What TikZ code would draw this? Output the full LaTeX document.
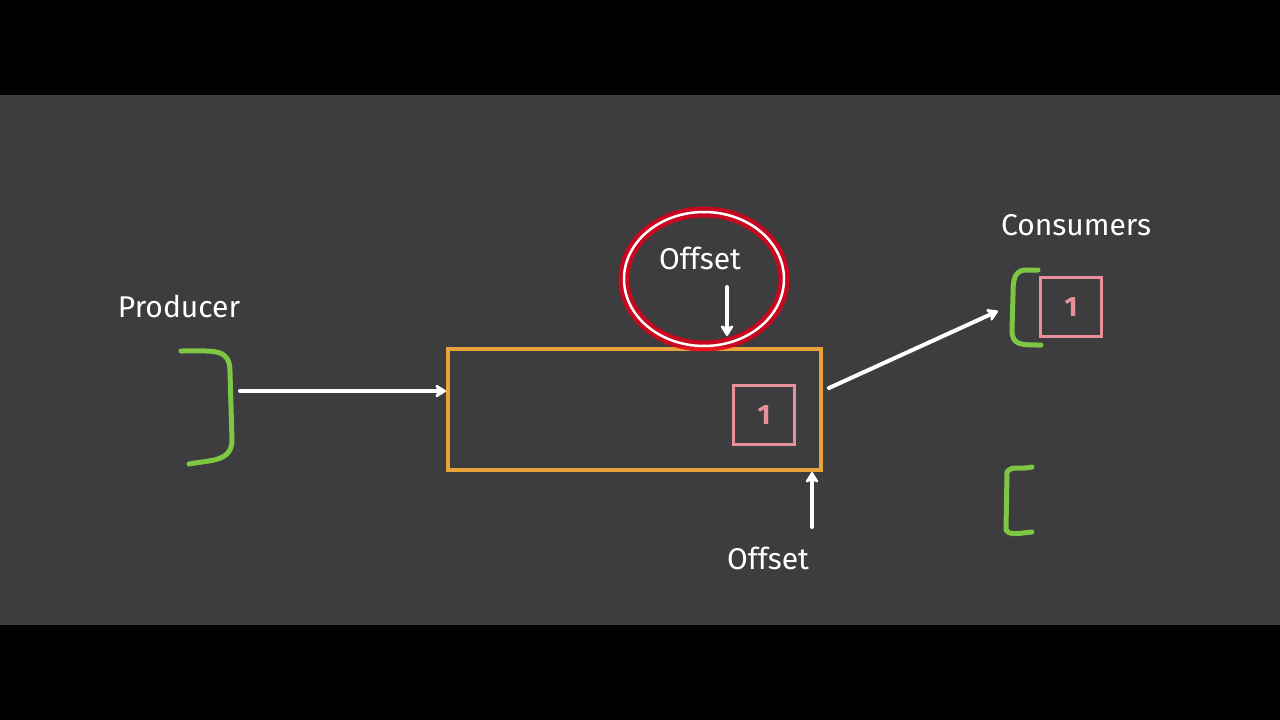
\documentclass[tikz,border=0pt]{standalone}
\usepackage{fontspec}
\setmainfont{Fira Sans}
\usetikzlibrary{arrows.meta}
\definecolor{bg}{HTML}{3D3C3E}
\definecolor{korange}{HTML}{E8A33A}
\definecolor{kgreen}{HTML}{7DC742}
\definecolor{kpink}{HTML}{E8909A}
\definecolor{kred}{HTML}{E0001A}
\tikzset{
  lbl/.style={text=white, font=\fontsize{30}{33}\selectfont},
  warrow/.style={draw=white, line width=4pt, line cap=round, -{Stealth[round,length=13pt,width=16pt,inset=4pt]}},
  brk/.style={draw=kgreen, line width=5pt, line cap=round, line join=round},
  msgbox/.style={draw=kpink, line width=3.5pt, minimum width=61pt, minimum height=59pt, text=kpink, font=\fontsize{28}{30}\selectfont\bfseries, inner sep=0pt},
}
\begin{document}
\begin{tikzpicture}[x=1pt,y=-1pt]
\useasboundingbox (0,0) rectangle (1280,720);
\fill[black] (0,0) rectangle (1280,720);
\fill[bg] (0,95) rectangle (1280,625);

% producer
\node[lbl] (prodlbl) at (179,306) {Producer};
\draw[brk] (181,351) .. controls (215,351) and (230,348) .. (230,372) -- (232,440) .. controls (232,462) and (210,460) .. (189,464);
\coordinate (prodout) at (240,391);

% topic/partition
\node[draw=korange, line width=4pt, minimum width=373pt, minimum height=121pt, inner sep=0pt] (part) at (634.5,409.5) {};
\node[msgbox] (m1) at (764,415) {1};

\draw[warrow] (prodout) -- (part.west |- prodout);

% circled offset
\draw[kred, line width=11pt, opacity=0.85] (704,279) ellipse (80pt and 67pt);
\draw[white, line width=2.5pt] (704,279) ellipse (80pt and 67pt);
\node[lbl] (off1) at (700,258) {Offset};
\coordinate (off1a) at (727,287);
\coordinate (off1b) at (727,336);
\draw[warrow] (off1a) -- (off1b);

% lower offset
\node[lbl] (off2) at (768,558) {Offset};
\coordinate (off2a) at (812,527);
\draw[warrow] (off2a) -- (off2a |- part.south);

% consumers
\node[lbl] (cons) at (1076,225) {Consumers};
\draw[brk] (1038,270) -- (1024,270) .. controls (1014,272) and (1013,280) .. (1013,295) -- (1012,330) .. controls (1012,345) and (1020,345) .. (1041,345);
\node[msgbox] (m2) at (1071,307) {1};
\coordinate (c1in) at (998,311);
\coordinate (partout) at (829,388);
\draw[warrow] (partout) -- (c1in);

\draw[brk] (1032,467) .. controls (1020,470) and (1012,465) .. (1007,472) -- (1006,530) .. controls (1010,536) and (1020,533) .. (1032,532);
\end{tikzpicture}
\end{document}
